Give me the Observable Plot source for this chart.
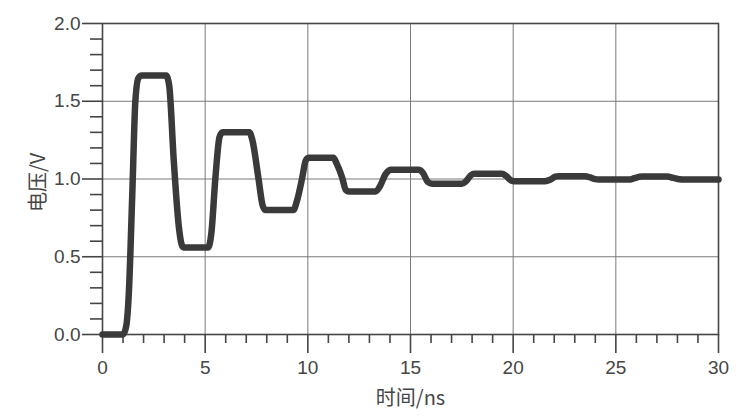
<!DOCTYPE html>
<html>
<head>
<meta charset="utf-8">
<script src="https://cdn.jsdelivr.net/npm/d3@7"></script>
<script src="https://cdn.jsdelivr.net/npm/@observablehq/plot@0.6"></script>
<style>
  html, body { margin: 0; padding: 0; background: #fff; }
  #chart svg { display: block; }
  #chart svg g[aria-label$="tick label"] text { font-family: "Liberation Sans", Arial, sans-serif; font-size: 19px; }
</style>
</head>
<body>
<div id="chart"></div>
<script>
// Time (ns) and voltage (V)
const timeNs = [0, 1.0, 1.15, 1.28, 1.45, 1.6, 1.75, 1.9, 3.1, 3.25, 3.47, 3.72, 3.85, 3.95, 5.15, 5.3, 5.5, 5.7, 5.85,
  7.15, 7.3, 7.6, 7.8, 7.95, 9.3, 9.45, 9.73, 9.9, 10.05, 11.25, 11.4, 11.67, 11.85, 12.0, 13.3, 13.5, 13.78, 13.95, 14.05,
  15.4, 15.6, 15.85, 16.05, 17.5, 17.7, 17.95, 18.1, 19.45, 19.65, 19.9, 20.05, 21.55, 21.8, 22.05, 22.2,
  23.5, 23.75, 24.0, 24.15, 25.7, 25.9, 26.15, 26.3, 27.5, 27.8, 28.1, 28.25, 30];
const voltage = [0, 0, 0.05, 0.26, 0.9, 1.5, 1.65, 1.665, 1.665, 1.6, 1.12, 0.69, 0.58, 0.56, 0.56, 0.65, 1.01, 1.27, 1.30,
  1.30, 1.25, 1.0, 0.83, 0.80, 0.80, 0.85, 1.01, 1.12, 1.136, 1.136, 1.10, 1.01, 0.93, 0.92, 0.92, 0.95, 1.03, 1.055, 1.059,
  1.059, 1.04, 0.98, 0.969, 0.969, 0.985, 1.025, 1.033, 1.033, 1.02, 0.99, 0.986, 0.986, 0.995, 1.015, 1.018,
  1.018, 1.01, 0.999, 0.997, 0.997, 1.005, 1.014, 1.016, 1.016, 1.007, 0.998, 0.997, 0.997];

const xMajorTicks = [0, 5, 10, 15, 20, 25, 30];
const xMinorTicks = [1,2,3,4,6,7,8,9,11,12,13,14,16,17,18,19,21,22,23,24,26,27,28,29];
const yMajorTicks = [0, 0.5, 1.0, 1.5, 2.0];
const yMinorTicks = [0.1,0.2,0.3,0.4,0.6,0.7,0.8,0.9,1.1,1.2,1.3,1.4,1.6,1.7,1.8,1.9];
const xGrid = [5, 10, 15, 20, 25];
const yGrid = [0.5, 1.0, 1.5];
const xLabel = "时间/ns";
const yLabel = "电压/V";

const data = timeNs.map((t, i) => ({t, v: voltage[i]}));
const ink = "#454545";
const numFont = "'Liberation Sans', Arial, sans-serif";
const cjkFont = "'Noto Sans CJK SC', sans-serif";

const chart = Plot.plot({
  width: 755,
  height: 420,
  marginLeft: 102,
  marginRight: 37,
  marginTop: 23,
  marginBottom: 86,
  style: {fontFamily: numFont, fontSize: "19px", color: ink, background: "#fff"},
  x: {domain: [0, 30]},
  y: {domain: [0, 2.0]},
  marks: [
    Plot.gridX(xGrid, {stroke: "#7a7a7a", strokeOpacity: 1, strokeWidth: 1}),
    Plot.gridY(yGrid, {stroke: "#7a7a7a", strokeOpacity: 1, strokeWidth: 1}),
    Plot.frame({stroke: ink, strokeWidth: 1.6}),
    Plot.axisX(xMajorTicks, {tickSize: 19, tickPadding: 7, fontSize: 19, stroke: ink, strokeWidth: 1.6, fill: ink, tickFormat: d => String(d), label: null}),
    Plot.axisX(xMinorTicks, {tickSize: 9, text: null, stroke: ink, strokeWidth: 1.6, label: null}),
    Plot.axisY(yMajorTicks, {tickSize: 20, tickPadding: 2, fontSize: 19, stroke: ink, strokeWidth: 1.6, fill: ink, tickFormat: d => d.toFixed(1), label: null}),
    Plot.axisY(yMinorTicks, {tickSize: 12, text: null, stroke: ink, strokeWidth: 1.6, label: null}),
    Plot.line(data, {x: "t", y: "v", stroke: "#3a3a3a", strokeWidth: 6.5, curve: "monotone-x", strokeLinejoin: "round", strokeLinecap: "round"}),
    Plot.text([xLabel], {frameAnchor: "bottom", dy: 64, text: d => d, fontSize: 20, fill: ink, fontFamily: cjkFont, lineAnchor: "middle"}),
    Plot.text([yLabel], {frameAnchor: "left", dx: -64, dy: 33, rotate: -90, text: d => d, fontSize: 20, fill: ink, fontFamily: cjkFont, lineAnchor: "middle"})
  ]
});
document.getElementById("chart").appendChild(chart);
</script>
</body>
</html>
